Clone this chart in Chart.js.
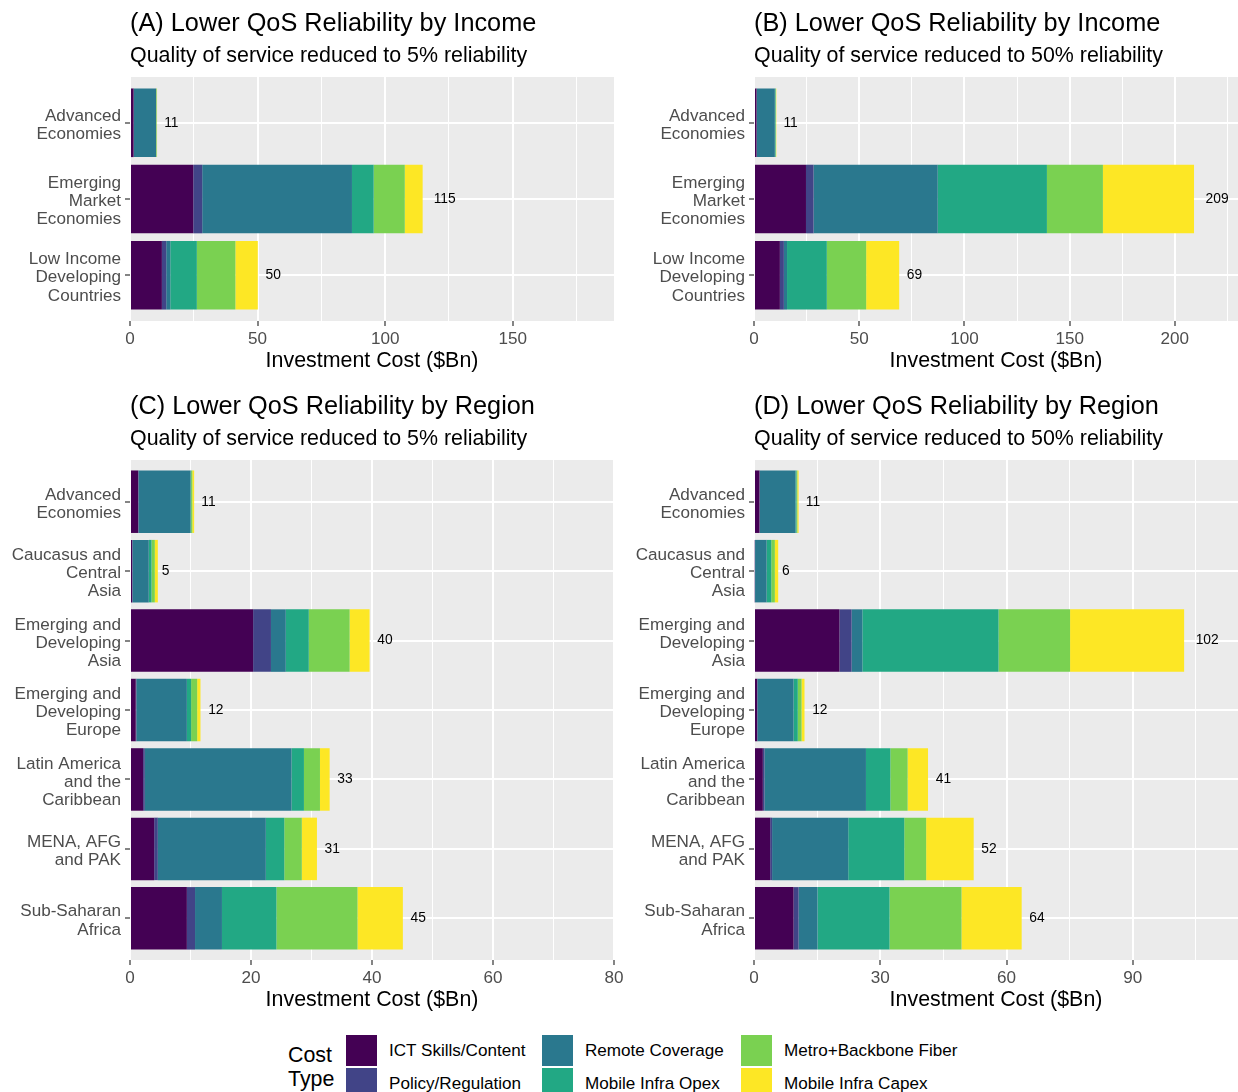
<!DOCTYPE html>
<html>
<head>
<meta charset="utf-8">
<title>Lower QoS Reliability – Investment Cost</title>
<script src="https://cdn.jsdelivr.net/npm/chart.js@4.4.1/dist/chart.umd.min.js"></script>
<style>
  html, body { margin: 0; padding: 0; background: #ffffff; }
  body { width: 1238px; height: 1092px; position: relative; overflow: hidden;
         font-family: "Liberation Sans", Arial, sans-serif; }
  canvas { position: absolute; }
  .legend-title { position: absolute; font-size: 21.4px; line-height: 24px; color: #000; }
  .legend-key { position: absolute; width: 31px; height: 31px; }
  .legend-label { position: absolute; font-size: 17.1px; line-height: 20px; color: #000; white-space: nowrap; }
</style>
</head>
<body>
<canvas id="panelA" width="640" height="390" style="left:0px;top:0px"></canvas>
<canvas id="panelB" width="614" height="390" style="left:624px;top:0px"></canvas>
<canvas id="panelC" width="640" height="646" style="left:0px;top:383px"></canvas>
<canvas id="panelD" width="614" height="646" style="left:624px;top:383px"></canvas>
<div id="legend"></div>

<script>
// Cost categories, stacked left to right in this order
const costTypes = ['ICT Skills/Content', 'Policy/Regulation', 'Remote Coverage',
                   'Mobile Infra Opex', 'Metro+Backbone Fiber', 'Mobile Infra Capex'];
const costColors = ['#440154', '#414487', '#2A788E', '#22A884', '#7AD151', '#FDE725'];

const incomeGroups = [
  ['Advanced', 'Economies'],
  ['Emerging', 'Market', 'Economies'],
  ['Low Income', 'Developing', 'Countries']
];
const regionGroups = [
  ['Advanced', 'Economies'],
  ['Caucasus and', 'Central', 'Asia'],
  ['Emerging and', 'Developing', 'Asia'],
  ['Emerging and', 'Developing', 'Europe'],
  ['Latin America', 'and the', 'Caribbean'],
  ['MENA, AFG', 'and PAK'],
  ['Sub-Saharan', 'Africa']
];

// Investment cost in $Bn: one row per cost type (costTypes order), one value per group
const incomeQos5 = [
  [1.4, 24.8, 12.5],
  [0.1, 3.5, 1.7],
  [8.7, 58.7, 1.6],
  [0.1, 8.5, 10.4],
  [0.1, 12.2, 15.1],
  [0.2, 7.0, 8.8]
];
const incomeQos50 = [
  [1.2, 24.7, 12.3],
  [0.1, 3.6, 1.9],
  [8.6, 59.0, 1.5],
  [0.3, 51.9, 18.9],
  [0.2, 26.6, 18.7],
  [0.2, 43.3, 15.7]
];
const regionQos5 = [
  [1.35, 0.35, 20.35, 0.95, 2.17, 4.0, 9.4],
  [0.05, 0.05, 2.95, 0.1, 0.28, 0.6, 1.35],
  [8.6, 2.7, 2.45, 8.35, 24.25, 17.85, 4.45],
  [0.1, 0.45, 3.8, 0.7, 2.05, 3.05, 9.0],
  [0.2, 0.55, 6.75, 1.0, 2.65, 2.9, 13.4],
  [0.3, 0.5, 3.3, 0.55, 1.6, 2.5, 7.5]
];
const regionQos50 = [
  [1.3, 0.2, 20.3, 0.75, 2.1, 3.85, 9.4],
  [0.05, 0.05, 2.9, 0.05, 0.4, 0.45, 1.2],
  [8.5, 2.75, 2.55, 8.6, 24.1, 18.1, 4.5],
  [0.25, 1.1, 32.35, 1.0, 5.8, 13.3, 17.1],
  [0.2, 0.85, 17.0, 0.9, 4.1, 5.2, 17.1],
  [0.3, 0.8, 27.1, 0.7, 4.85, 11.3, 14.3]
];

// Labelled x-axis ticks per panel
const incomeTicks5 = [0, 50, 100, 150];
const incomeTicks50 = [0, 50, 100, 150, 200];
const regionTicks5 = [0, 20, 40, 60, 80];
const regionTicks50 = [0, 30, 60, 90];

const FONT = "'Liberation Sans', Arial, sans-serif";
Chart.defaults.font.family = FONT;

// grey panel background behind the grid
const panelBackground = {
  id: 'panelBackground',
  beforeDraw(chart) {
    const { ctx, chartArea: a } = chart;
    ctx.save();
    ctx.fillStyle = '#EBEBEB';
    ctx.fillRect(a.left, a.top, a.right - a.left, a.bottom - a.top);
    ctx.restore();
  }
};

function buildPanel(canvasId, groups, values, ticks, xMax, title, subtitle, padRight) {
  const minorStep = (ticks[1] - ticks[0]) / 2;
  const isMajor = v => ticks.some(t => Math.abs(t - v) < 1e-6);
  const totals = groups.map((g, i) => values.reduce((s, row) => s + row[i], 0));

  const datasets = costTypes.map((name, k) => ({
    label: name,
    backgroundColor: costColors[k],
    borderWidth: 0,
    grouped: false,
    barPercentage: 0.9,
    categoryPercentage: 1,
    data: groups.map((g, i) => {
      let start = 0;
      for (let j = 0; j < k; j++) start += values[j][i];
      return { y: i + 1, x: [start, start + values[k][i]] };
    })
  }));

  // total cost printed just right of each bar
  const totalLabels = {
    id: 'totalLabels',
    afterDatasetsDraw(chart) {
      const { ctx, scales: { x, y } } = chart;
      ctx.save();
      ctx.font = '13.8px ' + FONT;
      ctx.fillStyle = '#000000';
      ctx.textAlign = 'left';
      ctx.textBaseline = 'middle';
      totals.forEach((t, i) => {
        const txt = String(Math.round(t));
        const w = ctx.measureText(txt).width;
        ctx.fillText(txt, x.getPixelForValue(t) + 0.5 * w, y.getPixelForValue(i + 1));
      });
      ctx.restore();
    }
  };

  return new Chart(document.getElementById(canvasId), {
    type: 'bar',
    data: { datasets },
    plugins: [panelBackground, totalLabels],
    options: {
      indexAxis: 'y',
      responsive: false,
      animation: false,
      events: [],
      layout: { padding: { left: 0, right: padRight, top: 0, bottom: 0 } },
      plugins: {
        legend: { display: false },
        tooltip: { enabled: false },
        title: {
          display: true, text: title, align: 'start', fullSize: false,
          color: '#000000', font: { size: 25.3, weight: 'normal' },
          padding: { top: 8.5, bottom: 3.8 }
        },
        subtitle: {
          display: true, text: subtitle, align: 'start', fullSize: false,
          color: '#000000', font: { size: 21.4, weight: 'normal' },
          padding: { top: 0.5, bottom: 8.2 }
        }
      },
      scales: {
        x: {
          type: 'linear',
          min: 0,
          max: xMax,
          bounds: 'data',
          offset: false,
          afterBuildTicks: scale => {
            const list = [];
            for (let v = 0; v <= xMax + 1e-9; v += minorStep) list.push({ value: v });
            scale.ticks = list;
          },
          afterFit: scale => { scale.height = 69; },
          border: { display: false },
          grid: {
            offset: false,
            color: '#FFFFFF',
            lineWidth: ctx => (ctx.tick && isMajor(ctx.tick.value) ? 2 : 1),
            drawTicks: true,
            tickLength: 5,
            tickWidth: 1.2,
            tickColor: ctx => (ctx.tick && isMajor(ctx.tick.value) ? '#333333' : 'rgba(0,0,0,0)')
          },
          ticks: {
            autoSkip: false,
            maxRotation: 0,
            padding: 3,
            color: '#4D4D4D',
            font: { size: 17.1 },
            callback: v => (isMajor(v) ? String(Math.round(v)) : '')
          },
          title: {
            display: true,
            text: 'Investment Cost ($Bn)',
            color: '#000000',
            font: { size: 21.4, lineHeight: 1 },
            padding: { top: 0, bottom: 17.8 }
          }
        },
        y: {
          type: 'linear',
          reverse: true,
          min: 0.4,
          max: groups.length + 0.6,
          bounds: 'data',
          offset: false,
          afterBuildTicks: scale => {
            scale.ticks = groups.map((g, i) => ({ value: i + 1 }));
          },
          afterFit: scale => { scale.width = 130; },
          border: { display: false },
          grid: {
            offset: false,
            color: '#FFFFFF',
            lineWidth: 2,
            drawTicks: true,
            tickLength: 5,
            tickWidth: 1.2,
            tickColor: '#333333'
          },
          ticks: {
            autoSkip: false,
            padding: 4,
            labelOffset: 2.5,
            color: '#4D4D4D',
            font: { size: 17.1, lineHeight: 1.06 },
            callback: v => groups[Math.round(v) - 1]
          }
        }
      }
    }
  });
}

buildPanel('panelA', incomeGroups, incomeQos5, incomeTicks5, 189.7,
  '(A) Lower QoS Reliability by Income', 'Quality of service reduced to 5% reliability', 26);
buildPanel('panelB', incomeGroups, incomeQos50, incomeTicks50, 230,
  '(B) Lower QoS Reliability by Income', 'Quality of service reduced to 50% reliability', 0);
buildPanel('panelC', regionGroups, regionQos5, regionTicks5, 80,
  '(C) Lower QoS Reliability by Region', 'Quality of service reduced to 5% reliability', 26);
buildPanel('panelD', regionGroups, regionQos50, regionTicks50, 115,
  '(D) Lower QoS Reliability by Region', 'Quality of service reduced to 50% reliability', 0);

// Shared legend: two rows, filled column by column
(function buildLegend() {
  const host = document.getElementById('legend');
  const title = document.createElement('div');
  title.className = 'legend-title';
  title.style.left = '288px';
  title.style.top = '1043px';
  title.innerHTML = 'Cost<br>Type';
  host.appendChild(title);
  const colX = [346, 542, 741];
  const rowY = [1035, 1068];
  costTypes.forEach((name, k) => {
    const col = Math.floor(k / 2), row = k % 2;
    const key = document.createElement('div');
    key.className = 'legend-key';
    key.style.left = colX[col] + 'px';
    key.style.top = rowY[row] + 'px';
    key.style.background = costColors[k];
    host.appendChild(key);
    const label = document.createElement('div');
    label.className = 'legend-label';
    label.style.left = (colX[col] + 43) + 'px';
    label.style.top = (rowY[row] + 5.5) + 'px';
    label.textContent = name;
    host.appendChild(label);
  });
})();
</script>
</body>
</html>
